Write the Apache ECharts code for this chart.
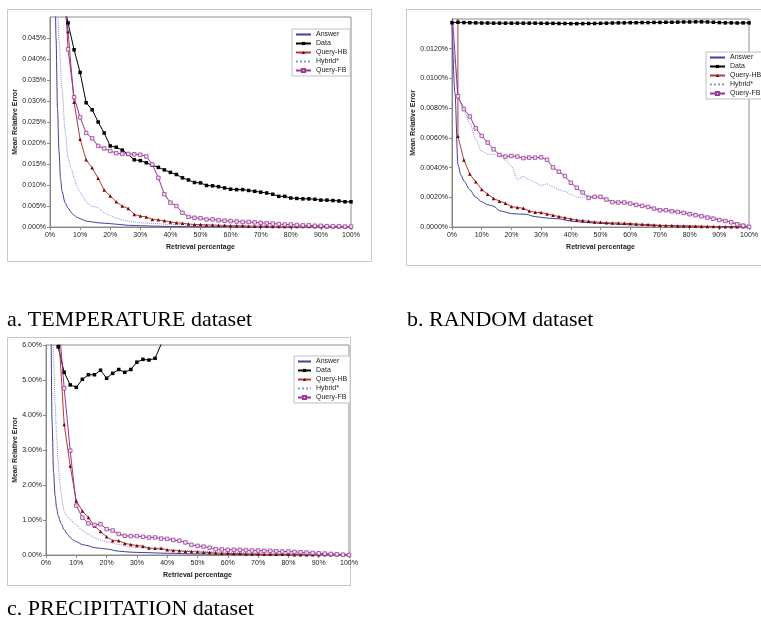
<!DOCTYPE html>
<html>
<head>
<meta charset="utf-8">
<script src="https://cdn.jsdelivr.net/npm/echarts@6.0.0/dist/echarts.min.js"></script>
<style>
html, body { margin: 0; padding: 0; background: #fff; }
#main { width: 761px; height: 634px; }
</style>
</head>
<body>
<div id="main"></div>
<script>
// retrieval percentage of the marked series (every 2%)
var xs2 = [0, 2, 4, 6, 8, 10, 12, 14, 16, 18, 20, 22, 24, 26, 28, 30, 32, 34, 36, 38, 40,
  42, 44, 46, 48, 50, 52, 54, 56, 58, 60, 62, 64, 66, 68, 70, 72, 74, 76, 78, 80,
  82, 84, 86, 88, 90, 92, 94, 96, 98, 100];
var seriesNames = ['Answer', 'Data', 'Query-HB', 'Hybrid*', 'Query-FB'];

// a. TEMPERATURE (values in %)
var tempData = [0.09, 0.07, 0.055, 0.0486, 0.0422, 0.0368, 0.0296, 0.0279, 0.0250, 0.0224, 0.0193,
  0.0190, 0.0183, 0.0173, 0.0160, 0.0158, 0.0153, 0.0147, 0.0142, 0.0136, 0.0130,
  0.0125, 0.0117, 0.0112, 0.0106, 0.0105, 0.0099, 0.0098, 0.0096, 0.0093, 0.0090,
  0.0089, 0.0089, 0.0087, 0.0085, 0.0083, 0.0081, 0.0078, 0.0073, 0.0073, 0.0069,
  0.0068, 0.0067, 0.0067, 0.0066, 0.0064, 0.0064, 0.0063, 0.0062, 0.0060, 0.0060];
var tempQHB = [0.12, 0.09, 0.0565, 0.0465, 0.0297, 0.0209, 0.0160, 0.0141, 0.0116, 0.0088, 0.0074,
  0.0060, 0.0050, 0.0044, 0.0030, 0.0026, 0.0024, 0.0018, 0.0017, 0.0015, 0.0012,
  0.0010, 0.0009, 0.0007, 0.0006, 0.0006, 0.0005, 0.0005, 0.0004, 0.0004, 0.0003,
  0.0003, 0.0003, 0.0002, 0.0002, 0.0002, 0.0002, 0.0001, 0.0001, 0.0001, 0.0001,
  0.0001, 0.0001, 0.0001, 0.00005, 0.00005, 0.00005, 0.00005, 0.00003, 0.00002, 0.00001];
var tempQFB = [0.12, 0.09, 0.068, 0.0423, 0.0309, 0.0261, 0.0224, 0.0211, 0.0193, 0.0187, 0.0181,
  0.0176, 0.0174, 0.0174, 0.0173, 0.0172, 0.0168, 0.0149, 0.0117, 0.0078, 0.0058,
  0.0050, 0.0034, 0.0024, 0.0022, 0.0021, 0.0018, 0.0018, 0.0016, 0.0015, 0.0014,
  0.0013, 0.0012, 0.0012, 0.0011, 0.0010, 0.0009, 0.0008, 0.0007, 0.0006, 0.0006,
  0.0005, 0.0004, 0.0004, 0.0003, 0.0003, 0.0002, 0.0002, 0.0002, 0.0001, 0.0001];
var tempAnsX = [1, 1.5, 2, 2.5, 3, 3.5, 4, 5, 6, 7, 8, 9, 10, 11, 12, 14, 16, 18, 20, 23, 26, 30, 35, 40, 50, 60, 70, 80, 90, 100];
var tempAnsY = [0.2, 0.07, 0.045, 0.028, 0.018, 0.0115, 0.0085, 0.0058, 0.0045, 0.0035, 0.0028, 0.0023, 0.002, 0.0017, 0.0014,
  0.0012, 0.001, 0.0009, 0.0008, 0.0006, 0.0004, 0.0003, 0.0002, 0.0001, 0.00005, 0.00003, 0.00002, 0.00001, 0.00001, 0];
var tempHybX = [1.5, 2, 2.5, 3, 4, 5, 6, 7, 8, 9, 10, 11, 12, 13, 14, 15, 16, 17, 18, 19, 20, 22, 24, 26, 28, 30, 35, 40, 50, 60, 70, 80, 90, 100];
var tempHybY = [0.09, 0.065, 0.052, 0.044, 0.033, 0.023, 0.0165, 0.014, 0.0118, 0.0095, 0.0083, 0.0071, 0.0061, 0.0053,
  0.0049, 0.0048, 0.0046, 0.0040, 0.0034, 0.0030, 0.0027, 0.0021, 0.0017, 0.0014, 0.0012, 0.0010, 0.0008, 0.0006,
  0.0004, 0.0003, 0.0002, 0.0001, 0.00005, 0];

// b. RANDOM
var randData = [0.01375, 0.01378, 0.01376, 0.01375, 0.01374, 0.01373, 0.01373, 0.01372, 0.01372, 0.01372, 0.01372,
  0.01372, 0.01372, 0.01372, 0.01372, 0.01371, 0.01371, 0.01371, 0.01370, 0.01370, 0.01369,
  0.01369, 0.01369, 0.01370, 0.01370, 0.01371, 0.01372, 0.01373, 0.01374, 0.01374, 0.01375,
  0.01375, 0.01376, 0.01376, 0.01377, 0.01377, 0.01378, 0.01378, 0.01379, 0.01380, 0.01380,
  0.01381, 0.01381, 0.01380, 0.01378, 0.01376, 0.01374, 0.01374, 0.01373, 0.01374, 0.01374];
var randQHB = [0.5, 0.0061, 0.00451, 0.00356, 0.00304, 0.00253, 0.00221, 0.00192, 0.00174, 0.0016, 0.00138,
  0.00131, 0.00126, 0.00108, 0.00099, 0.00097, 0.00088, 0.00079, 0.0007, 0.00063, 0.00054,
  0.00047, 0.00043, 0.00038, 0.00034, 0.00032, 0.00029, 0.00027, 0.00027, 0.00025, 0.00023,
  0.0002, 0.00018, 0.00016, 0.00014, 0.00011, 0.0001, 0.0001, 0.00007, 0.00007, 0.00005,
  0.00005, 0.00004, 0.00004, 0.00004, 0.00002, 0.00001, 0.00001, 0.00001, 0.00001, 0.00001];
var randQFB = [0.0145, 0.0088, 0.00794, 0.00744, 0.00665, 0.00613, 0.00568, 0.00523, 0.00485, 0.00474, 0.00478,
  0.00474, 0.00464, 0.00467, 0.00467, 0.00469, 0.00453, 0.00401, 0.00372, 0.00343, 0.00298,
  0.00264, 0.00232, 0.00196, 0.00203, 0.00203, 0.00185, 0.00167, 0.00165, 0.00165, 0.00158,
  0.00149, 0.00142, 0.00135, 0.00124, 0.00113, 0.00113, 0.00106, 0.00101, 0.00095, 0.00086,
  0.00079, 0.00072, 0.00063, 0.00056, 0.00047, 0.00041, 0.00032, 0.00018, 0.00009, 0.00001];
var randAnsX = [0, 1, 2, 3, 4, 6, 8, 10, 12, 14, 16, 18, 20, 25, 28, 32, 36, 40, 45, 50, 60, 70, 80, 90, 100];
var randAnsY = [0.0138, 0.009, 0.0042, 0.0035, 0.0031, 0.0025, 0.002, 0.0017, 0.0015, 0.0014, 0.0011, 0.001, 0.0009,
  0.00085, 0.0007, 0.0006, 0.00055, 0.0004, 0.0003, 0.00025, 0.00015, 0.0001, 0.00006, 0.00003, 0];
var randHybX = [0, 1, 2, 4, 6, 8, 10, 12, 14, 16, 18, 20, 22, 24, 26, 28, 30, 32, 34, 36, 38, 40, 42, 44, 46, 48, 50,
  55, 60, 65, 70, 75, 80, 85, 90, 95, 100];
var randHybY = [0.0138, 0.011, 0.0087, 0.0078, 0.0070, 0.0059, 0.0051, 0.0049, 0.0049, 0.0048, 0.0045, 0.0041, 0.0032,
  0.0034, 0.0032, 0.0030, 0.0028, 0.0029, 0.0027, 0.0025, 0.0024, 0.0022, 0.0020, 0.0020, 0.0021, 0.0020, 0.0019,
  0.0017, 0.0016, 0.0014, 0.0012, 0.0011, 0.0010, 0.0008, 0.00056, 0.0003, 0.0001];

// c. PRECIPITATION
var precData = [20, 12, 5.95, 5.22, 4.86, 4.79, 5.02, 5.15, 5.15, 5.28, 5.05,
  5.19, 5.30, 5.22, 5.30, 5.51, 5.59, 5.57, 5.62, 6.02, 6.6];
var precQHB = [20, 12, 6.6, 3.73, 2.54, 1.54, 1.26, 1.07, 0.83, 0.67, 0.52,
  0.41, 0.41, 0.33, 0.30, 0.27, 0.25, 0.20, 0.19, 0.19, 0.15,
  0.13, 0.12, 0.10, 0.10, 0.09, 0.08, 0.07, 0.06, 0.05, 0.05,
  0.04, 0.04, 0.03, 0.03, 0.03, 0.02, 0.02, 0.02, 0.02, 0.02,
  0.01, 0.01, 0.01, 0.01, 0.01, 0.01, 0.01, 0.005, 0.005, 0];
var precQFB = [20, 12, 6.9, 4.76, 2.98, 1.41, 1.07, 0.90, 0.86, 0.88, 0.74,
  0.70, 0.60, 0.55, 0.54, 0.54, 0.52, 0.50, 0.50, 0.47, 0.46,
  0.43, 0.41, 0.36, 0.29, 0.26, 0.24, 0.21, 0.17, 0.16, 0.15,
  0.15, 0.15, 0.14, 0.13, 0.13, 0.12, 0.12, 0.11, 0.10, 0.10,
  0.09, 0.08, 0.07, 0.06, 0.05, 0.04, 0.03, 0.02, 0.01, 0];
var precAnsX = [1, 1.5, 2, 2.5, 3, 3.5, 4, 5, 6, 7, 8, 9, 10, 12, 14, 16, 18, 20, 24, 28, 32, 40, 50, 60, 70, 80, 90, 100];
var precAnsY = [20, 7.5, 3.8, 2.35, 1.7, 1.35, 1.12, 0.9, 0.72, 0.6, 0.5, 0.43, 0.38, 0.3, 0.26, 0.21, 0.19, 0.17,
  0.11, 0.08, 0.07, 0.05, 0.03, 0.02, 0.015, 0.01, 0.005, 0];
var precHybX = [1.5, 2, 2.5, 3, 3.5, 4, 4.5, 5, 5.5, 6, 7, 8, 9, 10, 12, 14, 16, 18, 20, 24, 28, 32, 36, 40, 50, 60, 70, 80, 90, 100];
var precHybY = [14, 8, 5.6, 4.3, 3.4, 2.7, 2.1, 1.75, 1.45, 1.25, 1.1, 1.02, 0.94, 0.86, 0.7, 0.59, 0.5, 0.43, 0.38,
  0.3, 0.23, 0.2, 0.17, 0.15, 0.11, 0.08, 0.06, 0.04, 0.03, 0.02];

var FONT = 'Liberation Sans, Arial, sans-serif';
var SERIF = '22px "Liberation Serif", "Times New Roman", serif';

function pairs(xs, ys) {
  var out = [];
  for (var i = 0; i < ys.length && i < xs.length; i++) out.push([xs[i], ys[i]]);
  return out;
}

// look of each series, same in all three charts
var looks = {
  'Answer': { symbol: 'none', smooth: 0.3, smoothMonotone: 'x',
    lineStyle: { color: '#3f3f9c', width: 1 }, itemStyle: { color: '#3f3f9c' } },
  'Data': { symbol: 'rect', symbolSize: 3.5,
    lineStyle: { color: '#000', width: 1 }, itemStyle: { color: '#000' } },
  'Query-HB': { symbol: 'triangle', symbolSize: 3.5,
    lineStyle: { color: '#b23a3a', width: 1 }, itemStyle: { color: '#7a0000' } },
  'Hybrid*': { symbol: 'none', smooth: 0.3, smoothMonotone: 'x',
    lineStyle: { color: '#8595dc', width: 1, type: 'dotted' }, itemStyle: { color: '#8595dc' } },
  'Query-FB': { symbol: 'rect', symbolSize: 3.5,
    lineStyle: { color: '#993399', width: 1 }, itemStyle: { color: '#f0dcf0', borderColor: '#9a3d9a', borderWidth: 0.8 } }
};

function mk(grid, name, data) {
  var s = { type: 'line', name: name, xAxisIndex: grid, yAxisIndex: grid, data: data,
    clip: true, silent: true, animation: false, showSymbol: true };
  var l = looks[name];
  for (var k in l) s[k] = l[k];
  return s;
}

var series = [
  mk(0, 'Answer', pairs(tempAnsX, tempAnsY)),
  mk(0, 'Data', pairs(xs2, tempData)),
  mk(0, 'Query-HB', pairs(xs2, tempQHB)),
  mk(0, 'Hybrid*', pairs(tempHybX, tempHybY)),
  mk(0, 'Query-FB', pairs(xs2, tempQFB)),
  mk(1, 'Answer', pairs(randAnsX, randAnsY)),
  mk(1, 'Data', pairs(xs2, randData)),
  mk(1, 'Query-HB', pairs(xs2, randQHB)),
  mk(1, 'Hybrid*', pairs(randHybX, randHybY)),
  mk(1, 'Query-FB', pairs(xs2, randQFB)),
  mk(2, 'Answer', pairs(precAnsX, precAnsY)),
  mk(2, 'Data', pairs(xs2, precData)),
  mk(2, 'Query-HB', pairs(xs2, precQHB)),
  mk(2, 'Hybrid*', pairs(precHybX, precHybY)),
  mk(2, 'Query-FB', pairs(xs2, precQFB))
];

function xAx(i) {
  return {
    gridIndex: i, type: 'value', min: 0, max: 100, interval: 10,
    axisLine: { show: true, lineStyle: { color: '#888' } },
    axisTick: { show: true, length: 3, lineStyle: { color: '#888' } },
    axisLabel: { fontSize: 7, color: '#222', fontFamily: FONT, margin: 5, formatter: '{value}%' },
    splitLine: { show: false },
    name: 'Retrieval percentage', nameLocation: 'middle', nameGap: 17,
    nameTextStyle: { fontSize: 7, fontWeight: 'bold', color: '#222', fontFamily: FONT }
  };
}
function yAx(i, max, step, dec, showMax, gap) {
  return {
    gridIndex: i, type: 'value', min: 0, max: max, interval: step,
    axisLine: { show: true, lineStyle: { color: '#888' } },
    axisTick: { show: true, length: 3, lineStyle: { color: '#888' } },
    axisLabel: { fontSize: 7, color: '#222', fontFamily: FONT, margin: 4, showMaxLabel: showMax,
      formatter: function (v) { return v.toFixed(dec) + '%'; } },
    splitLine: { show: false },
    name: 'Mean Relative Error', nameLocation: 'middle', nameGap: gap, nameRotate: 90,
    nameTextStyle: { fontSize: 7, fontWeight: 'bold', color: '#222', fontFamily: FONT }
  };
}

// lines without markers: hide the legend dot, keep the line
var noDot = { color: 'rgba(0,0,0,0)', borderColor: 'rgba(0,0,0,0)', borderWidth: 0 };
function leg(left, top, w) {
  return {
    data: seriesNames.map(function (n) {
      return (n === 'Answer' || n === 'Hybrid*') ? { name: n, itemStyle: noDot } : { name: n };
    }),
    orient: 'vertical', left: left, top: top,
    itemWidth: w, itemHeight: 4, itemGap: 0, padding: [1, 3, 1, 3],
    borderColor: '#c0c0c0', borderWidth: 1, backgroundColor: '#fff',
    selectedMode: false,
    textStyle: { fontSize: 7, color: '#222', fontFamily: FONT, lineHeight: 9 }
  };
}

var gridBase = { show: true, backgroundColor: '#fff', borderColor: '#8c8c8c', borderWidth: 1, containLabel: false };
function grid(l, t, w, h) {
  var g = { left: l, top: t, width: w, height: h };
  for (var k in gridBase) g[k] = gridBase[k];
  return g;
}

var chart = echarts.init(document.getElementById('main'), null, { renderer: 'canvas' });
chart.setOption({
  backgroundColor: '#fff',
  animation: false,
  textStyle: { fontFamily: FONT },
  graphic: [
    { type: 'rect', z: -10, shape: { x: 7.5, y: 9.5, width: 364, height: 252 }, style: { fill: '#fff', stroke: '#c8c8c8', lineWidth: 1 } },
    { type: 'rect', z: -10, shape: { x: 406.5, y: 9.5, width: 380, height: 256 }, style: { fill: '#fff', stroke: '#c8c8c8', lineWidth: 1 } },
    { type: 'rect', z: -10, shape: { x: 7.5, y: 337.5, width: 343, height: 248 }, style: { fill: '#fff', stroke: '#c8c8c8', lineWidth: 1 } },
    { type: 'text', x: 7, y: 320, style: { text: 'a. TEMPERATURE dataset', font: SERIF, fill: '#000', verticalAlign: 'middle' } },
    { type: 'text', x: 407, y: 320, style: { text: 'b. RANDOM dataset', font: SERIF, fill: '#000', verticalAlign: 'middle' } },
    { type: 'text', x: 7, y: 609, style: { text: 'c. PRECIPITATION dataset', font: SERIF, fill: '#000', verticalAlign: 'middle' } }
  ],
  grid: [grid(50, 17, 301, 210), grid(452, 19, 305, 208), grid(46, 345, 303, 210)],
  xAxis: [xAx(0), xAx(1), xAx(2)],
  yAxis: [yAx(0, 0.05, 0.005, 3, false, 27), yAx(1, 0.014, 0.002, 4, false, 24), yAx(2, 6, 1, 2, true, 26)],
  legend: [leg(292, 29, 15), leg(706, 52, 15), leg(294, 356, 13)],
  series: series
});
</script>
</body>
</html>
